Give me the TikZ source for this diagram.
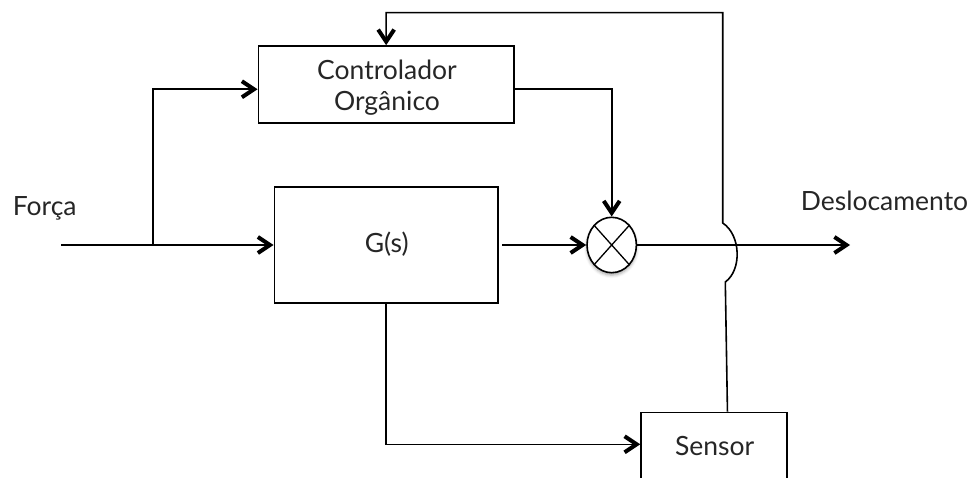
\documentclass[tikz,border=0pt]{standalone}
\usepackage{fontspec}
\setmainfont{Lato}
\usetikzlibrary{arrows.meta,shapes.geometric,shadows.blur}
\begin{document}
\begin{tikzpicture}[x=1pt,y=-1pt,
  font=\fontsize{26.5}{31}\selectfont,
  line width=1.6pt,
  >={Straight Barb[length=12pt,width=16pt,line width=4pt 0 0]},
  block/.style={draw, rectangle, inner sep=0pt},
  label/.style={inner sep=0pt, text=black!85},
  mixer/.style={draw, ellipse, fill=white, inner sep=0pt,
    minimum width=49.4pt, minimum height=55.4pt,
    blur shadow={shadow xshift=0pt, shadow yshift=-2.5pt,
      shadow blur radius=3pt, shadow opacity=35}},
]
\useasboundingbox (0,0) rectangle (968,478);
\clip (0,0) rectangle (968,478);

% blocks
\node[block, minimum width=255.7pt, minimum height=77.3pt] (ctrl) at (386.15,84.65) {};
\node[label, anchor=base] (ctrlone) at (387,80) {Controlador};
\node[label, anchor=base] (ctrltwo) at (387,111) {Orgânico};

\node[block, minimum width=223.4pt, minimum height=116.3pt] (gs) at (386,245) {};
\node[label, anchor=base] (gstxt) at (386.7,252.3) {G(s)};

\node[block, minimum width=145.7pt, minimum height=100pt, anchor=north] (sensor) at (713.85,411.7) {};
\node[label, anchor=base] (sensortxt) at (714.7,455.7) {Sensor};

% multiplier
\node[mixer] (mult) at (611.7,245) {};
\draw[line width=1.3pt] (mult.north west) -- (mult.south east)
                        (mult.north east) -- (mult.south west);

% signal labels
\node[label, anchor=base west] (forca) at (12,216) {Força};
\node[label, anchor=base west] (desloc) at (800,211) {Deslocamento};

% free ends and route points
\coordinate (src) at (61,245);
\coordinate (split) at (153,245);
\coordinate (sink) at (850,245);
\coordinate (jumplow) at (725.3,282);
\coordinate (jumphigh) at (722.7,223);
\coordinate (fbtop) at (722.7,12.7);

% connectors
\draw[->] (src) -- (src -| gs.west);
\draw[->] (split) |- ([yshift=-4.6pt]ctrl.west);
\draw[->] ([xshift=3.5pt]gs.east) -- (mult.west);
\draw[->] ([yshift=-4.6pt]ctrl.east) -| (mult.north);
\draw[->] (mult.east) -- (sink);
\draw[->] (gs.south) |- ([yshift=-32.6pt]sensor.north west);
\draw[->] ([xshift=13.6pt]sensor.north) -- (jumplow)
  .. controls (742,270) and (741,235) .. (jumphigh)
  -- (fbtop) -| (ctrl.north);
\end{tikzpicture}
\end{document}
